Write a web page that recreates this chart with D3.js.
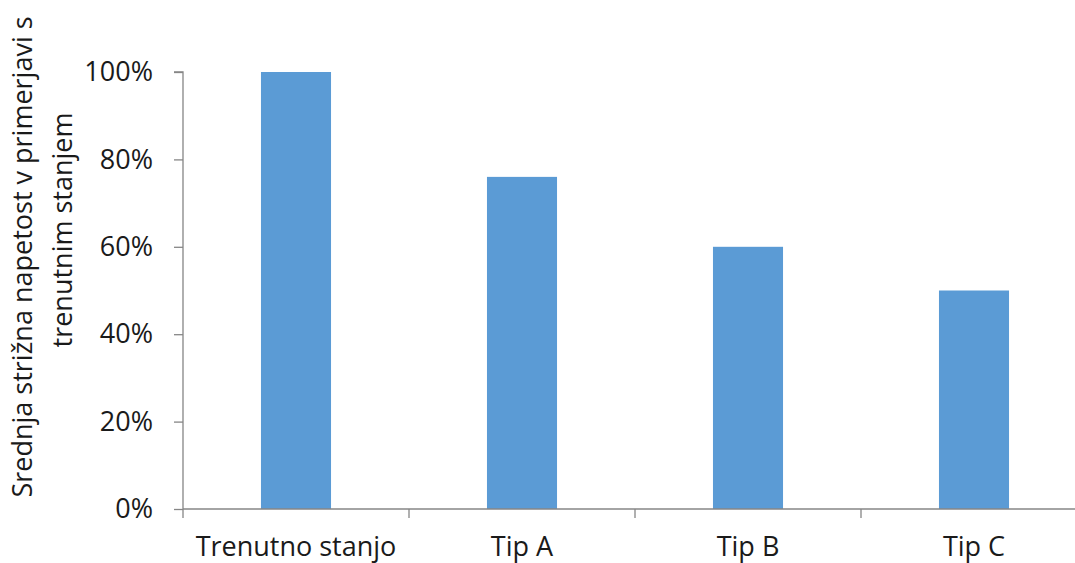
<!DOCTYPE html>
<html>
<head>
<meta charset="utf-8">
<script src="https://cdn.jsdelivr.net/npm/d3@7"></script>
<style>
  html, body { margin: 0; padding: 0; background: #fff; }
  svg { display: block; }
  text { font-family: "Open Sans", sans-serif; fill: #1a1a1a; }
</style>
</head>
<body>
<svg id="chart" width="1075" height="563"></svg>
<script>
const categories = ["Trenutno stanjo", "Tip A", "Tip B", "Tip C"];
const values = [1.00, 0.76, 0.60, 0.50];
const yTicks = [0, 0.2, 0.4, 0.6, 0.8, 1.0];
const yTitleLines = ["Srednja strižna napetost v primerjavi s", "trenutnim stanjem"];

const svg = d3.select("#chart");
const x0 = 183, x1 = 1087, yBottom = 509, yTop = 72;
const axisColor = "#868686";
const barColor = "#5b9bd5";
const fs = "27px";

const x = d3.scaleBand().domain(categories).range([x0, x1]).paddingInner(0.69).paddingOuter(0.345);
const y = d3.scaleLinear().domain([0, 1]).range([yBottom, yTop]);

// bars
svg.append("g").selectAll("rect").data(values).join("rect")
  .attr("x", (d, i) => x(categories[i]))
  .attr("width", x.bandwidth())
  .attr("y", d => y(d))
  .attr("height", d => y(0) - y(d))
  .attr("fill", barColor);

// y axis
const yAxis = d3.axisLeft(y).tickValues(yTicks).tickFormat(d3.format(".0%")).tickSize(9).tickPadding(21);
const gy = svg.append("g").attr("transform", `translate(${x0},0)`).call(yAxis);
gy.select(".domain").attr("stroke", axisColor).attr("stroke-width", 1.3).attr("d", `M-9,${yTop}H0V${yBottom}`);
gy.selectAll(".tick line").attr("stroke", axisColor).attr("stroke-width", 1.3);
gy.selectAll(".tick text").style("font-family", "'Open Sans', sans-serif").style("font-size", fs).attr("fill", "#1a1a1a");

// x axis
const step = x.step();
const boundaries = categories.map((c, i) => x0 + i * step).concat([x1]);
const gx = svg.append("g");
gx.append("line").attr("x1", x0).attr("x2", x1).attr("y1", yBottom).attr("y2", yBottom)
  .attr("stroke", axisColor).attr("stroke-width", 1.3);
gx.selectAll("line.tk").data(boundaries).join("line").attr("class", "tk")
  .attr("x1", d => d).attr("x2", d => d).attr("y1", yBottom).attr("y2", yBottom + 9)
  .attr("stroke", axisColor).attr("stroke-width", 1.3);
gx.selectAll("text").data(categories).join("text")
  .attr("x", d => x(d) + x.bandwidth() / 2)
  .attr("y", 556)
  .attr("text-anchor", "middle")
  .style("font-size", fs)
  .text(d => d);

// y title
const yt = svg.append("g");
yt.append("text").attr("transform", "translate(32,257) rotate(-90)").attr("text-anchor", "middle")
  .style("font-size", fs).text(yTitleLines[0]);
yt.append("text").attr("transform", "translate(72,230) rotate(-90)").attr("text-anchor", "middle")
  .style("font-size", fs).text(yTitleLines[1]);
</script>
</body>
</html>
